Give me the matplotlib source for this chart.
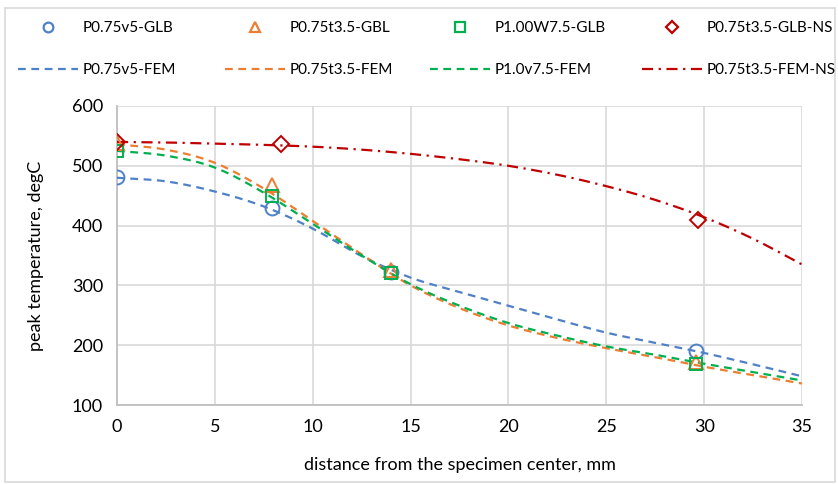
import numpy as np
import matplotlib
matplotlib.use("Agg")
import matplotlib.pyplot as plt
from matplotlib.lines import Line2D
from matplotlib.patches import Rectangle

plt.rcParams['font.family'] = ['Lato', 'DejaVu Sans']

# ---- data ----
fem_x = [0, 2.5, 5, 7.5, 10, 12.5, 15, 17.5, 20, 22.5, 25, 27.5, 30, 32.5, 35]
fem_v5 = [480, 474, 457, 432, 395, 349, 313, 289, 266, 243, 221, 204, 187, 168, 148]
fem_t35 = [536, 527, 505, 462, 408, 352, 300, 262, 233, 212, 195, 180, 164, 150, 136]
fem_v75 = [525, 517, 497, 455, 403, 350, 302, 266, 237, 216, 198, 184, 169, 155, 141]
fem_ns = [540, 539, 537, 535, 532, 527, 520, 511, 500, 485, 466, 443, 414, 378, 335]

glb_x = [0, 7.9, 14, 29.6]
glb_v5 = [481, 430, 322, 190]
glb_t35 = [538, 468, 325, 172]
glb_w75 = [525, 450, 320, 168]
ns_x = [0, 8.4, 29.7]
glb_ns = [540, 536, 410]

x_ticks = [0, 5, 10, 15, 20, 25, 30, 35]
y_ticks = [100, 200, 300, 400, 500, 600]

c_blue = '#4f81c6'
c_orange = '#ed7d31'
c_green = '#00b050'
c_red = '#c00000'


def smooth(x, y, n=20):
    """Catmull-Rom smoothing similar to Excel's smoothed lines."""
    x = np.asarray(x, float); y = np.asarray(y, float)
    P = np.column_stack([x, y])
    P = np.vstack([P[0] - (P[1] - P[0]), P, P[-1] + (P[-1] - P[-2])])
    out = []
    t = np.linspace(0, 1, n, endpoint=False)[:, None]
    for i in range(1, len(P) - 2):
        p0, p1, p2, p3 = P[i - 1], P[i], P[i + 1], P[i + 2]
        seg = 0.5 * ((2 * p1) + (-p0 + p2) * t + (2 * p0 - 5 * p1 + 4 * p2 - p3) * t ** 2
                     + (-p0 + 3 * p1 - 3 * p2 + p3) * t ** 3)
        out.append(seg)
    out.append(P[-2][None, :])
    out = np.vstack(out)
    return out[:, 0], out[:, 1]


W, H = 838, 484
fig = plt.figure(figsize=(W / 100, H / 100), dpi=100)
ax = fig.add_axes([117 / W, 1 - 405 / H, 685 / W, 299 / H])

lw = 1.6
dash = (3.5, 2.5)
dashdot = (5, 2.5, 1, 2.5)
for xs, ys, col, ls in [(fem_x, fem_v5, c_blue, (0, dash)),
                        (fem_x, fem_t35, c_orange, (0, dash)),
                        (fem_x, fem_v75, c_green, (0, dash)),
                        (fem_x, fem_ns, c_red, (0, dashdot))]:
    sx, sy = smooth(xs, ys)
    ax.plot(sx, sy, color=col, lw=lw, linestyle=ls, zorder=3)

ms = 10
mew = 1.4
ax.plot(glb_x, glb_v5, 'o', ms=ms, mfc='none', mec=c_blue, mew=mew, zorder=4)
ax.plot(glb_x, glb_t35, '^', ms=ms, mfc='none', mec=c_orange, mew=mew, zorder=4)
ax.plot(glb_x, glb_w75, 's', ms=ms - 1, mfc='none', mec=c_green, mew=mew, zorder=4)
ax.plot(ns_x, glb_ns, 'D', ms=ms - 1.5, mfc='none', mec=c_red, mew=mew, zorder=5)

ax.set_xlim(0, 35)
ax.set_ylim(100, 600)
ax.set_xticks(x_ticks)
ax.set_yticks(y_ticks)
ax.grid(True, color='#d9d9d9', lw=1.2, zorder=0)
ax.set_axisbelow(True)
for s in ['top', 'right']:
    ax.spines[s].set_visible(False)
for s in ['left', 'bottom']:
    ax.spines[s].set_color('#bfbfbf')
    ax.spines[s].set_linewidth(1.3)
ax.tick_params(length=0, labelsize=13, colors='#000000', pad=10)
ax.set_xlabel('distance from the specimen center, mm', fontsize=13)
ax.set_ylabel('peak temperature, degC', fontsize=13)
ax.xaxis.set_label_coords(0.5, (405 - 457) / 299)
ax.yaxis.set_label_coords((44 - 117) / 685, 0.5)

handles = [
    Line2D([], [], ls='none', marker='o', ms=7, mfc='none', mec=c_blue, mew=1.6, label='P0.75v5-GLB'),
    Line2D([], [], ls='none', marker='^', ms=7, mfc='none', mec=c_orange, mew=1.6, label='P0.75t3.5-GBL'),
    Line2D([], [], ls='none', marker='s', ms=6.5, mfc='none', mec=c_green, mew=1.6, label='P1.00W7.5-GLB'),
    Line2D([], [], ls='none', marker='D', ms=6, mfc='none', mec=c_red, mew=1.6, label='P0.75t3.5-GLB-NS'),
    Line2D([], [], color=c_blue, lw=lw, ls=(0, dash), label='P0.75v5-FEM'),
    Line2D([], [], color=c_orange, lw=lw, ls=(0, dash), label='P0.75t3.5-FEM'),
    Line2D([], [], color=c_green, lw=lw, ls=(0, dash), label='P1.0v7.5-FEM'),
    Line2D([], [], color=c_red, lw=lw, ls=(0, dashdot), label='P0.75t3.5-FEM-NS'),
]
col_x = [18, 225, 430, 642]
row_y = [28, 70]
for i, h in enumerate(handles):
    r, c = divmod(i, 4)
    leg = fig.legend(handles=[h], loc='center left',
                     bbox_to_anchor=(col_x[c] / W, 1 - row_y[r] / H),
                     frameon=False, fontsize=11, handlelength=3.9, handletextpad=0.3,
                     borderpad=0, borderaxespad=0)

fig.add_artist(Rectangle((5 / W, 2 / H), 830 / W, 474 / H, transform=fig.transFigure,
                         fill=False, edgecolor='#d9d9d9', lw=1.2))

fig.savefig('out.png', dpi=100)
